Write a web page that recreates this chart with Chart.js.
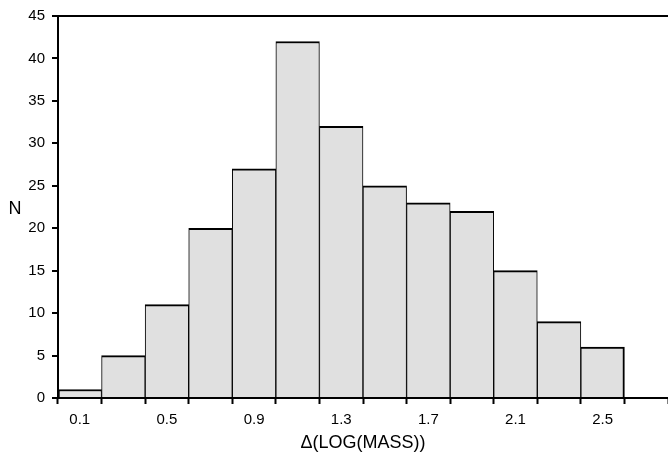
<!DOCTYPE html>
<html>
<head>
<meta charset="utf-8">
<script src="https://cdn.jsdelivr.net/npm/chart.js@4"></script>
<style>
  html, body { margin: 0; padding: 0; background: #fff; }
  #wrap { width: 668px; height: 455px; }
</style>
</head>
<body>
<div id="wrap"><canvas id="hist"></canvas></div>
<script>
// Bins of delta log(mass), counts per bin
const bins = ['0.1', '0.3', '0.5', '0.7', '0.9', '1.1', '1.3', '1.5', '1.7', '1.9', '2.1', '2.3', '2.5', '2.7'];
const counts = [1, 5, 11, 20, 27, 42, 32, 25, 23, 22, 15, 9, 6, null];
const yTicks = [0, 5, 10, 15, 20, 25, 30, 35, 40, 45];

const FAMILY = '"Liberation Sans", Arial, sans-serif';
const TICK_FONT = { family: FAMILY, size: 15 };
const TITLE_FONT = { family: FAMILY, size: 18 };

// upright "N" to the left of the y axis
const yLabel = {
    id: 'yLabel',
    afterDraw(chart) {
        const { ctx, chartArea } = chart;
        ctx.save();
        ctx.font = '18px ' + FAMILY;
        ctx.fillStyle = '#000';
        ctx.textAlign = 'center';
        ctx.textBaseline = 'middle';
        ctx.fillText('N', 15, (chartArea.top + chartArea.bottom) / 2 + 2);
        ctx.restore();
    }
};

const lastBar = counts.filter(v => v !== null).length - 1;

new Chart(document.getElementById('hist'), {
    type: 'bar',
    data: {
        labels: bins,
        datasets: [{
            data: counts,
            backgroundColor: '#e0e0e0',
            borderColor: '#000',
            borderWidth: ctx => ({ top: 2, left: ctx.dataIndex === 0 ? 2 : 1, right: ctx.dataIndex === lastBar ? 2 : 1, bottom: 0 }),
            borderSkipped: 'start',
            categoryPercentage: 1,
            barPercentage: 1
        }]
    },
    options: {
        responsive: true,
        maintainAspectRatio: false,
        animation: false,
        layout: { padding: { top: 15, right: 0, bottom: 0, left: 0 } },
        plugins: { legend: { display: false }, tooltip: { enabled: false } },
        scales: {
            x: {
                offset: true,
                grid: { offset: true, drawOnChartArea: false, tickLength: 6, tickColor: '#000', tickWidth: 2 },
                border: { color: '#000', width: 2 },
                ticks: {
                    autoSkip: false,
                    maxRotation: 0,
                    padding: 7,
                    color: '#000',
                    font: TICK_FONT,
                    callback: (v, i) => (i % 2 === 0 && i < 13) ? bins[i] : ''
                },
                title: { display: true, text: 'Δ(LOG(MASS))', color: '#000', font: TITLE_FONT, padding: { top: 0, bottom: 1 } },
                afterFit: s => { s.height = 57; }
            },
            y: {
                min: 0,
                max: 45,
                afterBuildTicks: s => { s.ticks = yTicks.map(v => ({ value: v })); },
                grid: {
                    color: c => c.tick && c.tick.value === 45 ? '#000' : 'rgba(0,0,0,0)',
                    lineWidth: 2,
                    tickLength: 6,
                    tickColor: '#000',
                    tickWidth: 2
                },
                border: { color: '#000', width: 2 },
                ticks: { padding: 7, color: '#000', font: TICK_FONT },
                afterFit: s => { s.width = 58; }
            }
        }
    },
    plugins: [yLabel]
});
</script>
</body>
</html>
